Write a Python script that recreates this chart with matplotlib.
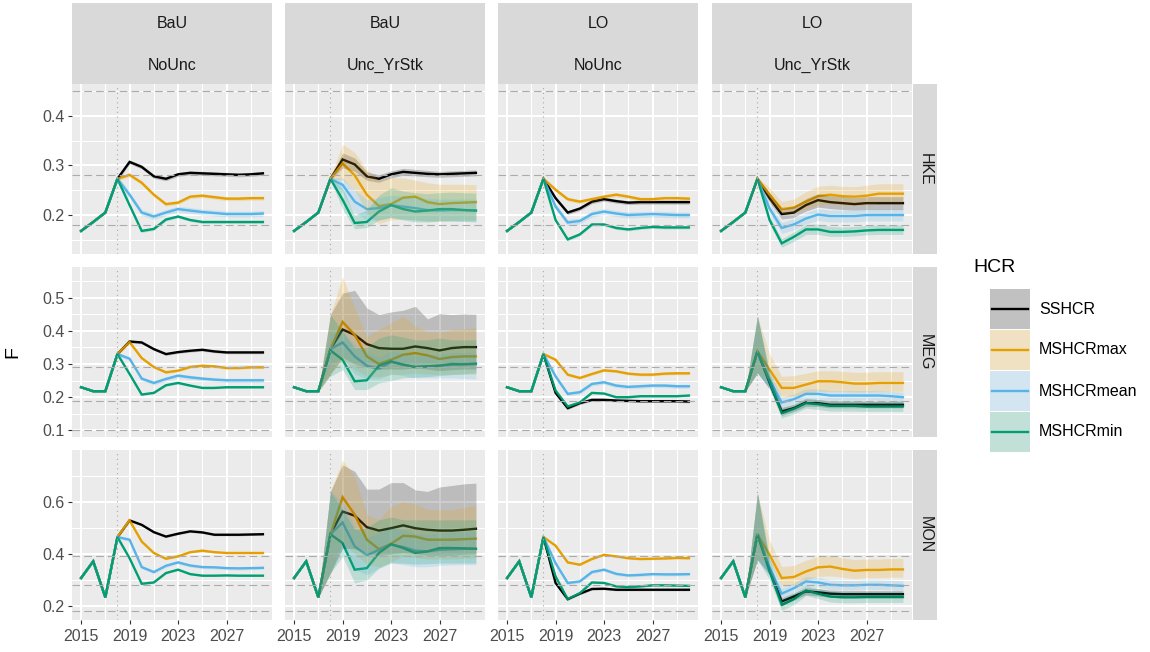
import matplotlib
matplotlib.use("Agg")
import matplotlib.pyplot as plt
from matplotlib.patches import Rectangle
import numpy as np

plt.rcParams['font.family'] = ['Liberation Sans', 'DejaVu Sans']
plt.rcParams['lines.scale_dashes'] = False

# ---------------------------------------------------------------- data
HCRS = ["SSHCR", "MSHCRmax", "MSHCRmean", "MSHCRmin"]
HCR_COLORS = ["#000000", "#E69F00", "#56B4E9", "#009E73"]
STOCKS = ["HKE", "MEG", "MON"]
MANAGEMENT = ["BaU", "BaU", "LO", "LO"]
UNCERTAINTY = ["NoUnc", "Unc_YrStk", "NoUnc", "Unc_YrStk"]
HIST_YEARS = [2015, 2016, 2017]
PROJ_YEARS = [2018, 2019, 2020, 2021, 2022, 2023, 2024, 2025, 2026, 2027, 2028, 2029, 2030]
X_TICKS = [2015, 2019, 2023, 2027]

# observed F before the projection
HKE_HIST = [0.168, 0.186, 0.205]
MEG_HIST = [0.230, 0.218, 0.218]
MON_HIST = [0.307, 0.371, 0.233]

# reference points drawn as dashed lines
HKE_REFS = [0.45, 0.28, 0.18]
MEG_REFS = [0.29, 0.19, 0.10]
MON_REFS = [0.39, 0.28, 0.18]

# projected median F (2018-2030), rows ordered as HCRS
HKE_BAU_NOUNC = [
    [0.273, 0.307, 0.297, 0.278, 0.273, 0.282, 0.285, 0.284, 0.283, 0.282, 0.281, 0.282, 0.284],
    [0.273, 0.281, 0.265, 0.241, 0.222, 0.225, 0.237, 0.239, 0.236, 0.233, 0.233, 0.234, 0.234],
    [0.273, 0.241, 0.205, 0.197, 0.205, 0.212, 0.209, 0.206, 0.204, 0.202, 0.202, 0.202, 0.203],
    [0.273, 0.220, 0.168, 0.172, 0.191, 0.197, 0.190, 0.186, 0.186, 0.186, 0.186, 0.186, 0.186],
]
HKE_BAU_UNC = [
    [0.273, 0.312, 0.302, 0.278, 0.273, 0.282, 0.287, 0.285, 0.283, 0.282, 0.283, 0.284, 0.285],
    [0.273, 0.304, 0.280, 0.241, 0.218, 0.222, 0.235, 0.237, 0.226, 0.222, 0.224, 0.225, 0.226],
    [0.273, 0.261, 0.227, 0.212, 0.214, 0.220, 0.217, 0.214, 0.210, 0.209, 0.210, 0.210, 0.209],
    [0.273, 0.231, 0.184, 0.186, 0.207, 0.220, 0.212, 0.207, 0.209, 0.212, 0.212, 0.210, 0.209],
]
HKE_BAU_UNC_LO = [
    [0.270, 0.295, 0.288, 0.270, 0.266, 0.275, 0.280, 0.279, 0.277, 0.276, 0.277, 0.278, 0.279],
    [0.270, 0.271, 0.251, 0.203, 0.183, 0.190, 0.192, 0.190, 0.188, 0.188, 0.189, 0.190, 0.190],
    [0.270, 0.245, 0.205, 0.190, 0.190, 0.195, 0.192, 0.190, 0.188, 0.188, 0.188, 0.188, 0.188],
    [0.270, 0.212, 0.172, 0.175, 0.190, 0.195, 0.190, 0.186, 0.186, 0.188, 0.188, 0.187, 0.186],
]
HKE_BAU_UNC_HI = [
    [0.276, 0.325, 0.315, 0.287, 0.281, 0.289, 0.294, 0.292, 0.290, 0.288, 0.289, 0.290, 0.291],
    [0.276, 0.343, 0.326, 0.292, 0.270, 0.276, 0.275, 0.270, 0.265, 0.262, 0.262, 0.262, 0.261],
    [0.276, 0.275, 0.250, 0.232, 0.235, 0.240, 0.238, 0.236, 0.233, 0.232, 0.232, 0.232, 0.232],
    [0.276, 0.255, 0.200, 0.210, 0.240, 0.255, 0.248, 0.245, 0.243, 0.245, 0.246, 0.245, 0.244],
]
HKE_LO_NOUNC = [
    [0.273, 0.234, 0.205, 0.213, 0.227, 0.232, 0.228, 0.225, 0.226, 0.226, 0.226, 0.226, 0.226],
    [0.273, 0.251, 0.232, 0.227, 0.232, 0.237, 0.241, 0.237, 0.232, 0.232, 0.234, 0.234, 0.233],
    [0.273, 0.217, 0.185, 0.188, 0.202, 0.207, 0.203, 0.200, 0.201, 0.202, 0.201, 0.200, 0.200],
    [0.273, 0.190, 0.151, 0.161, 0.181, 0.181, 0.174, 0.171, 0.174, 0.176, 0.175, 0.175, 0.175],
]
HKE_LO_UNC = [
    [0.273, 0.234, 0.202, 0.205, 0.220, 0.230, 0.226, 0.224, 0.222, 0.224, 0.224, 0.224, 0.224],
    [0.273, 0.241, 0.212, 0.215, 0.227, 0.238, 0.241, 0.238, 0.237, 0.239, 0.243, 0.243, 0.243],
    [0.273, 0.213, 0.174, 0.181, 0.193, 0.201, 0.198, 0.198, 0.198, 0.200, 0.200, 0.200, 0.200],
    [0.273, 0.190, 0.143, 0.156, 0.171, 0.171, 0.166, 0.166, 0.167, 0.169, 0.170, 0.170, 0.170],
]
HKE_LO_UNC_LO = [
    [0.270, 0.225, 0.192, 0.195, 0.208, 0.216, 0.213, 0.211, 0.210, 0.211, 0.211, 0.211, 0.211],
    [0.270, 0.228, 0.203, 0.205, 0.212, 0.220, 0.222, 0.220, 0.219, 0.221, 0.224, 0.224, 0.224],
    [0.270, 0.203, 0.163, 0.170, 0.182, 0.189, 0.186, 0.186, 0.186, 0.188, 0.188, 0.188, 0.188],
    [0.270, 0.182, 0.135, 0.147, 0.161, 0.161, 0.157, 0.157, 0.158, 0.160, 0.161, 0.161, 0.161],
]
HKE_LO_UNC_HI = [
    [0.276, 0.245, 0.213, 0.218, 0.233, 0.243, 0.239, 0.237, 0.235, 0.237, 0.237, 0.237, 0.237],
    [0.276, 0.255, 0.227, 0.232, 0.247, 0.258, 0.260, 0.258, 0.257, 0.260, 0.263, 0.263, 0.263],
    [0.276, 0.223, 0.185, 0.193, 0.205, 0.213, 0.210, 0.210, 0.210, 0.212, 0.212, 0.212, 0.212],
    [0.276, 0.198, 0.152, 0.166, 0.181, 0.182, 0.177, 0.176, 0.177, 0.179, 0.180, 0.180, 0.180],
]

MEG_BAU_NOUNC = [
    [0.330, 0.368, 0.365, 0.345, 0.330, 0.336, 0.340, 0.343, 0.338, 0.335, 0.335, 0.335, 0.335],
    [0.330, 0.366, 0.318, 0.291, 0.275, 0.280, 0.291, 0.295, 0.293, 0.288, 0.288, 0.290, 0.290],
    [0.330, 0.316, 0.256, 0.243, 0.255, 0.265, 0.260, 0.256, 0.253, 0.251, 0.251, 0.251, 0.251],
    [0.330, 0.270, 0.208, 0.213, 0.236, 0.243, 0.235, 0.228, 0.228, 0.230, 0.230, 0.230, 0.230],
]
MEG_BAU_UNC = [
    [0.345, 0.404, 0.388, 0.360, 0.348, 0.346, 0.346, 0.353, 0.348, 0.341, 0.348, 0.351, 0.351],
    [0.345, 0.427, 0.388, 0.323, 0.300, 0.313, 0.328, 0.333, 0.326, 0.315, 0.321, 0.323, 0.323],
    [0.345, 0.365, 0.323, 0.295, 0.285, 0.306, 0.298, 0.291, 0.293, 0.295, 0.298, 0.300, 0.300],
    [0.341, 0.313, 0.248, 0.251, 0.295, 0.308, 0.298, 0.291, 0.293, 0.295, 0.300, 0.299, 0.301],
]
MEG_BAU_UNC_LO = [
    [0.270, 0.320, 0.300, 0.290, 0.285, 0.285, 0.285, 0.288, 0.285, 0.280, 0.283, 0.285, 0.285],
    [0.270, 0.313, 0.283, 0.263, 0.262, 0.268, 0.270, 0.272, 0.270, 0.268, 0.270, 0.270, 0.270],
    [0.300, 0.320, 0.270, 0.255, 0.255, 0.270, 0.265, 0.258, 0.258, 0.258, 0.258, 0.256, 0.255],
    [0.263, 0.283, 0.223, 0.223, 0.243, 0.250, 0.258, 0.260, 0.262, 0.265, 0.268, 0.270, 0.273],
]
MEG_BAU_UNC_HI = [
    [0.449, 0.514, 0.522, 0.469, 0.449, 0.457, 0.462, 0.474, 0.436, 0.452, 0.449, 0.451, 0.450],
    [0.449, 0.564, 0.469, 0.383, 0.404, 0.424, 0.444, 0.414, 0.398, 0.396, 0.404, 0.406, 0.409],
    [0.390, 0.400, 0.360, 0.335, 0.320, 0.340, 0.333, 0.325, 0.328, 0.330, 0.333, 0.335, 0.335],
    [0.449, 0.398, 0.348, 0.351, 0.378, 0.388, 0.381, 0.373, 0.373, 0.378, 0.373, 0.373, 0.373],
]
MEG_LO_NOUNC = [
    [0.330, 0.213, 0.167, 0.182, 0.192, 0.192, 0.190, 0.189, 0.188, 0.188, 0.188, 0.188, 0.187],
    [0.330, 0.313, 0.268, 0.258, 0.270, 0.281, 0.278, 0.271, 0.268, 0.268, 0.271, 0.272, 0.272],
    [0.330, 0.263, 0.210, 0.215, 0.240, 0.245, 0.235, 0.231, 0.233, 0.235, 0.235, 0.233, 0.233],
    [0.330, 0.220, 0.172, 0.184, 0.213, 0.211, 0.200, 0.200, 0.203, 0.203, 0.203, 0.203, 0.205],
]
MEG_LO_UNC = [
    [0.338, 0.243, 0.157, 0.167, 0.184, 0.182, 0.177, 0.177, 0.177, 0.177, 0.177, 0.177, 0.177],
    [0.338, 0.283, 0.228, 0.228, 0.238, 0.248, 0.248, 0.245, 0.241, 0.241, 0.243, 0.243, 0.243],
    [0.338, 0.253, 0.184, 0.194, 0.210, 0.210, 0.205, 0.205, 0.205, 0.205, 0.205, 0.203, 0.200],
    [0.338, 0.248, 0.152, 0.165, 0.182, 0.179, 0.174, 0.174, 0.174, 0.172, 0.172, 0.172, 0.172],
]
MEG_LO_UNC_LO = [
    [0.273, 0.225, 0.145, 0.157, 0.173, 0.172, 0.168, 0.168, 0.168, 0.168, 0.168, 0.168, 0.168],
    [0.273, 0.255, 0.200, 0.202, 0.210, 0.218, 0.218, 0.218, 0.216, 0.216, 0.218, 0.218, 0.218],
    [0.273, 0.230, 0.170, 0.180, 0.195, 0.196, 0.191, 0.191, 0.191, 0.191, 0.191, 0.189, 0.186],
    [0.273, 0.225, 0.137, 0.150, 0.167, 0.163, 0.158, 0.158, 0.158, 0.157, 0.157, 0.157, 0.157],
]
MEG_LO_UNC_HI = [
    [0.444, 0.265, 0.170, 0.178, 0.195, 0.193, 0.188, 0.188, 0.188, 0.188, 0.188, 0.188, 0.188],
    [0.444, 0.330, 0.263, 0.265, 0.272, 0.280, 0.280, 0.278, 0.275, 0.275, 0.277, 0.277, 0.277],
    [0.444, 0.280, 0.200, 0.210, 0.225, 0.225, 0.220, 0.220, 0.220, 0.220, 0.220, 0.218, 0.215],
    [0.444, 0.275, 0.167, 0.180, 0.197, 0.195, 0.190, 0.190, 0.190, 0.188, 0.188, 0.188, 0.188],
]

MON_BAU_NOUNC = [
    [0.464, 0.528, 0.511, 0.483, 0.466, 0.477, 0.486, 0.482, 0.473, 0.473, 0.473, 0.474, 0.475],
    [0.464, 0.528, 0.447, 0.403, 0.381, 0.390, 0.406, 0.412, 0.406, 0.403, 0.403, 0.403, 0.403],
    [0.464, 0.454, 0.349, 0.330, 0.354, 0.367, 0.355, 0.349, 0.348, 0.345, 0.344, 0.345, 0.346],
    [0.464, 0.383, 0.285, 0.290, 0.326, 0.339, 0.322, 0.316, 0.316, 0.317, 0.316, 0.316, 0.316],
]
MON_BAU_UNC = [
    [0.475, 0.562, 0.546, 0.502, 0.489, 0.498, 0.509, 0.498, 0.492, 0.489, 0.489, 0.492, 0.496],
    [0.475, 0.617, 0.550, 0.454, 0.418, 0.438, 0.469, 0.466, 0.454, 0.454, 0.454, 0.456, 0.458],
    [0.475, 0.520, 0.428, 0.394, 0.415, 0.435, 0.426, 0.412, 0.409, 0.415, 0.417, 0.419, 0.419],
    [0.475, 0.441, 0.339, 0.345, 0.403, 0.437, 0.422, 0.403, 0.409, 0.422, 0.422, 0.421, 0.419],
]
MON_BAU_UNC_LO = [
    [0.326, 0.420, 0.420, 0.400, 0.395, 0.400, 0.405, 0.400, 0.395, 0.395, 0.395, 0.398, 0.400],
    [0.326, 0.450, 0.400, 0.360, 0.350, 0.370, 0.390, 0.385, 0.380, 0.380, 0.380, 0.382, 0.385],
    [0.326, 0.440, 0.340, 0.320, 0.345, 0.365, 0.358, 0.350, 0.350, 0.355, 0.357, 0.358, 0.358],
    [0.326, 0.390, 0.288, 0.300, 0.345, 0.365, 0.364, 0.360, 0.362, 0.364, 0.364, 0.364, 0.364],
]
MON_BAU_UNC_HI = [
    [0.639, 0.741, 0.716, 0.648, 0.648, 0.673, 0.673, 0.645, 0.639, 0.656, 0.662, 0.668, 0.671],
    [0.639, 0.760, 0.696, 0.550, 0.530, 0.581, 0.600, 0.590, 0.569, 0.569, 0.569, 0.577, 0.585],
    [0.639, 0.600, 0.500, 0.460, 0.480, 0.500, 0.490, 0.478, 0.475, 0.480, 0.482, 0.484, 0.484],
    [0.639, 0.569, 0.492, 0.500, 0.530, 0.541, 0.530, 0.530, 0.530, 0.530, 0.530, 0.530, 0.530],
]
MON_LO_NOUNC = [
    [0.464, 0.288, 0.226, 0.247, 0.265, 0.266, 0.262, 0.262, 0.262, 0.262, 0.262, 0.262, 0.262],
    [0.464, 0.431, 0.367, 0.358, 0.380, 0.396, 0.390, 0.383, 0.380, 0.381, 0.382, 0.384, 0.383],
    [0.464, 0.364, 0.288, 0.294, 0.330, 0.339, 0.323, 0.317, 0.319, 0.322, 0.321, 0.321, 0.322],
    [0.464, 0.313, 0.226, 0.249, 0.290, 0.288, 0.275, 0.272, 0.275, 0.279, 0.279, 0.278, 0.277],
]
MON_LO_UNC = [
    [0.475, 0.339, 0.217, 0.236, 0.256, 0.252, 0.247, 0.245, 0.245, 0.245, 0.245, 0.245, 0.245],
    [0.475, 0.396, 0.307, 0.311, 0.332, 0.348, 0.351, 0.342, 0.335, 0.338, 0.338, 0.340, 0.340],
    [0.475, 0.345, 0.247, 0.268, 0.294, 0.290, 0.281, 0.279, 0.279, 0.281, 0.281, 0.279, 0.277],
    [0.475, 0.332, 0.204, 0.226, 0.259, 0.247, 0.236, 0.233, 0.233, 0.234, 0.234, 0.234, 0.234],
]
MON_LO_UNC_LO = [
    [0.377, 0.320, 0.200, 0.222, 0.243, 0.238, 0.233, 0.231, 0.231, 0.231, 0.231, 0.231, 0.231],
    [0.377, 0.370, 0.275, 0.280, 0.300, 0.313, 0.315, 0.310, 0.305, 0.308, 0.308, 0.310, 0.310],
    [0.377, 0.320, 0.225, 0.250, 0.275, 0.272, 0.263, 0.261, 0.261, 0.263, 0.263, 0.261, 0.259],
    [0.377, 0.300, 0.183, 0.205, 0.240, 0.228, 0.215, 0.212, 0.212, 0.213, 0.213, 0.213, 0.213],
]
MON_LO_UNC_HI = [
    [0.633, 0.360, 0.232, 0.250, 0.270, 0.266, 0.261, 0.259, 0.259, 0.259, 0.259, 0.259, 0.259],
    [0.633, 0.450, 0.351, 0.355, 0.375, 0.390, 0.392, 0.385, 0.378, 0.380, 0.380, 0.382, 0.382],
    [0.633, 0.390, 0.270, 0.288, 0.313, 0.310, 0.300, 0.298, 0.298, 0.300, 0.300, 0.298, 0.296],
    [0.633, 0.380, 0.225, 0.248, 0.278, 0.267, 0.257, 0.254, 0.254, 0.255, 0.255, 0.255, 0.255],
]

# half-width of the narrow band in the deterministic runs, per HCR
NOUNC_HALF_WIDTH = [0.004, 0.004, 0.006, 0.003]

# ---------------------------------------------------------------- layout (pixels)
W, H = 1150, 652
COL_X = [72, 285, 498, 712]
COL_W = 200
ROW_Y = [84, 267, 450]
ROW_H = 170
STRIP_TOP = 3
STRIP_MID = 43
RSTRIP_X0, RSTRIP_X1 = 913, 937

YLIMS = [(0.1215, 0.464), (0.080, 0.5925), (0.146, 0.798)]
Y_MAJOR = [[0.2, 0.3, 0.4], [0.1, 0.2, 0.3, 0.4, 0.5], [0.2, 0.4, 0.6]]
Y_MINOR = [[0.15, 0.25, 0.35, 0.45], [0.15, 0.25, 0.35, 0.45, 0.55], [0.3, 0.5, 0.7]]

PANEL_BG = "#EBEBEB"
STRIP_BG = "#D9D9D9"
TICK_TEXT = "#4D4D4D"
SMALL = 11.5
LINE_W = 1.7

hist = {"HKE": HKE_HIST, "MEG": MEG_HIST, "MON": MON_HIST}
refs = {"HKE": HKE_REFS, "MEG": MEG_REFS, "MON": MON_REFS}
medians = {
    "HKE": [HKE_BAU_NOUNC, HKE_BAU_UNC, HKE_LO_NOUNC, HKE_LO_UNC],
    "MEG": [MEG_BAU_NOUNC, MEG_BAU_UNC, MEG_LO_NOUNC, MEG_LO_UNC],
    "MON": [MON_BAU_NOUNC, MON_BAU_UNC, MON_LO_NOUNC, MON_LO_UNC],
}
lowers = {
    "HKE": [None, HKE_BAU_UNC_LO, None, HKE_LO_UNC_LO],
    "MEG": [None, MEG_BAU_UNC_LO, None, MEG_LO_UNC_LO],
    "MON": [None, MON_BAU_UNC_LO, None, MON_LO_UNC_LO],
}
uppers = {
    "HKE": [None, HKE_BAU_UNC_HI, None, HKE_LO_UNC_HI],
    "MEG": [None, MEG_BAU_UNC_HI, None, MEG_LO_UNC_HI],
    "MON": [None, MON_BAU_UNC_HI, None, MON_LO_UNC_HI],
}


def fig_rect(x0, y0, w, h):
    return [x0 / W, 1 - (y0 + h) / H, w / W, h / H]


fig = plt.figure(figsize=(W / 100, H / 100), dpi=100)

# overlay in pixel coordinates for strips and legend
over = fig.add_axes([0, 0, 1, 1], zorder=0)
over.set_xlim(0, W)
over.set_ylim(H, 0)
over.axis("off")

all_years = np.array(HIST_YEARS + PROJ_YEARS)

for r, stock in enumerate(STOCKS):
    for c in range(4):
        ax = fig.add_axes(fig_rect(COL_X[c], ROW_Y[r], COL_W, ROW_H), zorder=1)
        ax.set_facecolor(PANEL_BG)
        for s in ax.spines.values():
            s.set_visible(False)
        ax.set_xlim(2014.25, 2030.75)
        ax.set_ylim(*YLIMS[r])
        ax.set_xticks(X_TICKS)
        ax.set_xticks([2017, 2021, 2025, 2029], minor=True)
        ax.set_yticks(Y_MAJOR[r])
        ax.set_yticks(Y_MINOR[r], minor=True)
        ax.grid(which="major", color="white", lw=1.45, zorder=0)
        ax.grid(which="minor", color="white", lw=0.72, zorder=0)
        ax.set_axisbelow(True)
        ax.tick_params(which="minor", length=0)
        ax.tick_params(which="major", length=3.2, width=0.8, color="#333333",
                       labelsize=SMALL, labelcolor=TICK_TEXT)
        ax.tick_params(axis="y", pad=2)
        ax.tick_params(axis="x", pad=3.5)
        if c != 0:
            ax.tick_params(axis="y", which="major", length=0, labelleft=False)
        else:
            ax.set_yticklabels([f"{v:.1f}" for v in Y_MAJOR[r]])
        if r != 2:
            ax.tick_params(axis="x", which="major", length=0, labelbottom=False)

        med = medians[stock][c]
        lo = lowers[stock][c]
        hi = uppers[stock][c]

        # medians as lines, drawn beneath the uncertainty bands
        for k in range(4):
            y = np.array(hist[stock] + med[k])
            ax.plot(all_years, y, color=HCR_COLORS[k], lw=LINE_W, zorder=2,
                    solid_joinstyle="miter")
        for k in range(4):
            m = np.array(med[k])
            if lo is None:
                ax.fill_between(PROJ_YEARS, m - NOUNC_HALF_WIDTH[k], m + NOUNC_HALF_WIDTH[k],
                                color=HCR_COLORS[k], alpha=0.2, lw=0, zorder=3)
            else:
                xs = [HIST_YEARS[-1]] + PROJ_YEARS
                lo_k = [hist[stock][-1]] + lo[k]
                hi_k = [hist[stock][-1]] + hi[k]
                ax.fill_between(xs, lo_k, hi_k, color=HCR_COLORS[k], alpha=0.2,
                                lw=0, zorder=3)

        for ref in refs[stock]:
            ax.axhline(ref, color="#ABABAB", lw=0.8, dashes=(5.5, 3.0), zorder=4)
        ax.axvline(2018, color="#A8A8A8", lw=0.8, dashes=(0.8, 2.6), zorder=4)

# column strips (two stacked levels)
for c in range(4):
    over.add_patch(Rectangle((COL_X[c], STRIP_TOP), COL_W, ROW_Y[0] - STRIP_TOP,
                             facecolor=STRIP_BG, edgecolor="none"))
    over.text(COL_X[c] + COL_W / 2, (STRIP_TOP + STRIP_MID) / 2, MANAGEMENT[c],
              ha="center", va="center", fontsize=SMALL, color="#1A1A1A")
    over.text(COL_X[c] + COL_W / 2, (STRIP_MID + ROW_Y[0]) / 2 + 2, UNCERTAINTY[c],
              ha="center", va="center", fontsize=SMALL, color="#1A1A1A")

# row strips
for r, stock in enumerate(STOCKS):
    over.add_patch(Rectangle((RSTRIP_X0, ROW_Y[r]), RSTRIP_X1 - RSTRIP_X0, ROW_H,
                             facecolor=STRIP_BG, edgecolor="none"))
    over.text((RSTRIP_X0 + RSTRIP_X1) / 2, ROW_Y[r] + ROW_H / 2, stock,
              ha="center", va="center", rotation=-90, fontsize=SMALL, color="#1A1A1A")

# y-axis title
over.text(13, 352, "F", ha="center", va="center", rotation=90, fontsize=14, color="black")

# legend
over.text(973, 267, "HCR", ha="left", va="center", fontsize=14, color="black")
KEY_X, KEY_W, KEY_H, KEY_Y0 = 990, 40, 40, 289
for k, name in enumerate(HCRS):
    ky = KEY_Y0 + k * (KEY_H + 1)
    over.add_patch(Rectangle((KEY_X, ky), KEY_W, KEY_H, facecolor="#F2F2F2", edgecolor="none"))
    over.add_patch(Rectangle((KEY_X, ky), KEY_W, KEY_H, facecolor=HCR_COLORS[k],
                             alpha=0.2, edgecolor="none"))
    over.plot([KEY_X + 2, KEY_X + KEY_W - 2], [ky + KEY_H / 2] * 2,
              color=HCR_COLORS[k], lw=LINE_W)
    over.text(1039, ky + KEY_H / 2, name, ha="left", va="center",
              fontsize=SMALL, color="black")

fig.savefig("out.png", dpi=100)
